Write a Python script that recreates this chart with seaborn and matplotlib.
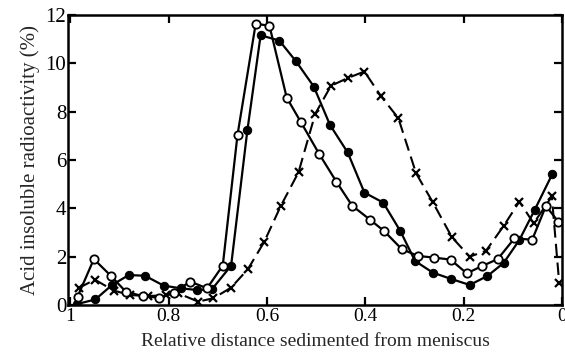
import matplotlib
matplotlib.use("Agg")
import matplotlib.pyplot as plt
import seaborn as sns
import pandas as pd

# Data
open_x = [0.985, 0.952, 0.918, 0.887, 0.853, 0.819, 0.790, 0.756, 0.722, 0.690,
          0.660, 0.623, 0.595, 0.560, 0.531, 0.494, 0.459, 0.427, 0.390, 0.362,
          0.326, 0.293, 0.260, 0.227, 0.194, 0.163, 0.131, 0.097, 0.061, 0.033, 0.008]
open_y = [0.35, 1.90, 1.22, 0.55, 0.37, 0.30, 0.51, 0.97, 0.69, 1.63,
          7.04, 11.64, 11.55, 8.58, 7.56, 6.25, 5.10, 4.11, 3.52, 3.06,
          2.31, 2.03, 1.96, 1.88, 1.31, 1.61, 1.90, 2.76, 2.70, 4.10, 3.45]

filled_x = [0.986, 0.949, 0.915, 0.881, 0.848, 0.810, 0.775, 0.742, 0.712, 0.673,
            0.640, 0.613, 0.575, 0.541, 0.505, 0.472, 0.436, 0.402, 0.364, 0.329,
            0.299, 0.263, 0.226, 0.188, 0.152, 0.119, 0.087, 0.056, 0.020]
filled_y = [0.04, 0.23, 0.83, 1.24, 1.21, 0.80, 0.69, 0.62, 0.65, 1.63,
            7.22, 11.16, 10.94, 10.08, 9.04, 7.45, 6.31, 4.65, 4.24, 3.06,
            1.82, 1.34, 1.08, 0.83, 1.20, 1.74, 2.69, 3.93, 5.42]

cross_x = [0.983, 0.950, 0.912, 0.878, 0.841, 0.805, 0.780, 0.740, 0.709, 0.673,
           0.639, 0.606, 0.572, 0.536, 0.502, 0.470, 0.436, 0.402, 0.368, 0.333,
           0.297, 0.263, 0.224, 0.188, 0.155, 0.119, 0.087, 0.058, 0.021, 0.006]
cross_y = [0.70, 1.05, 0.60, 0.41, 0.37, 0.41, 0.48, 0.14, 0.28, 0.72,
           1.48, 2.60, 4.10, 5.49, 7.91, 9.07, 9.39, 9.66, 8.63, 7.73,
           5.45, 4.25, 2.80, 2.00, 2.24, 3.27, 4.28, 3.38, 4.49, 0.90]

x_ticks = [1, 0.8, 0.6, 0.4, 0.2, 0]
x_tick_labels = ["1", "0.8", "0.6", "0.4", "0.2", "0"]
y_ticks = [0, 2, 4, 6, 8, 10, 12]

sns.set_theme(style="ticks")
plt.rcParams['font.family'] = ['Liberation Serif', 'DejaVu Serif']

fig = plt.figure(figsize=(5.65, 3.52), dpi=100)
ax = fig.add_axes([0.120, 0.1335, 0.875, 0.824])

df_open = pd.DataFrame({"x": open_x, "y": open_y})
df_filled = pd.DataFrame({"x": filled_x, "y": filled_y})
df_cross = pd.DataFrame({"x": cross_x, "y": cross_y})

sns.lineplot(data=df_cross, x="x", y="y", ax=ax, sort=False, color="black",
             lw=1.5, marker="x", markersize=6, markeredgewidth=1.6,
             markeredgecolor="black", linestyle=(0, (6, 3)))
sns.lineplot(data=df_filled, x="x", y="y", ax=ax, sort=False, color="black",
             lw=1.6, marker="o", markersize=6, markerfacecolor="black",
             markeredgecolor="black")
sns.lineplot(data=df_open, x="x", y="y", ax=ax, sort=False, color="black",
             lw=1.6, marker="o", markersize=6, markerfacecolor="white",
             markeredgecolor="black", markeredgewidth=1.3)

ax.set_xlim(1.005, 0.0)
ax.set_ylim(0, 12)
ax.set_xticks(x_ticks)
ax.set_xticklabels(x_tick_labels)
ax.set_yticks(y_ticks)
ax.tick_params(direction="in", length=6, width=1.6,
               top=True, right=True, colors="black", pad=2)
ax.tick_params(axis="x", labelsize=14)
ax.tick_params(axis="y", labelsize=15, pad=1)
for s in ax.spines.values():
    s.set_linewidth(1.8)
    s.set_color("black")
ax.set_xlabel("Relative distance sedimented from meniscus", fontsize=14, labelpad=6)
ax.set_ylabel("Acid insoluble radioactivity (%)", fontsize=15, labelpad=4)

fig.savefig("out.png", dpi=100)
